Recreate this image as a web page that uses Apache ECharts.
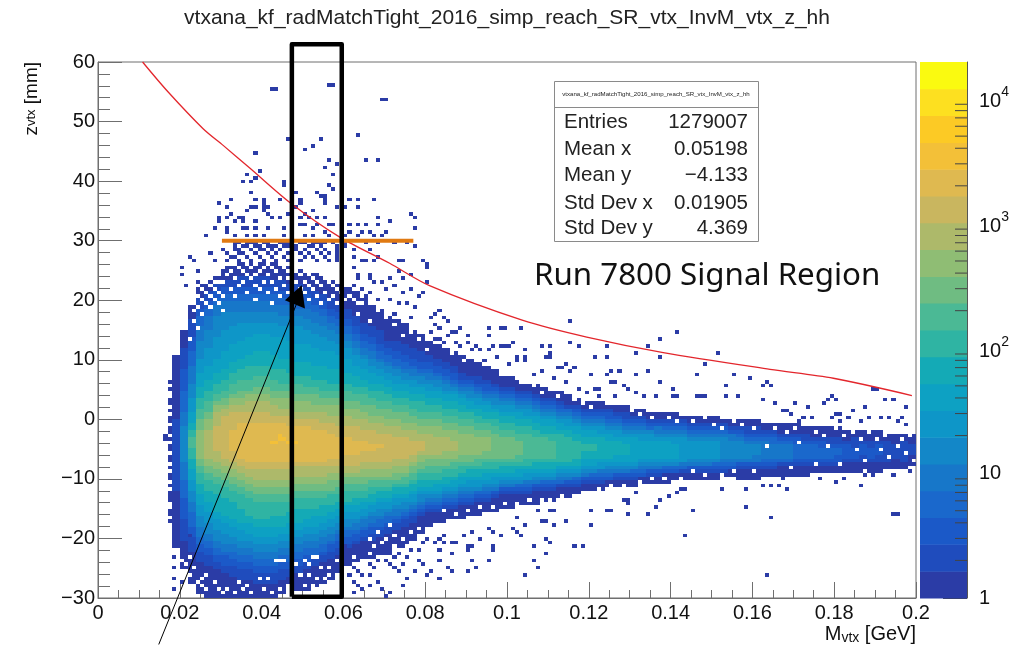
<!DOCTYPE html>
<html><head><meta charset="utf-8">
<style>html,body{margin:0;padding:0;background:#fff}#c{width:1014px;height:645px}</style>
<script src="https://cdn.jsdelivr.net/npm/echarts@6/dist/echarts.min.js"></script>
</head><body><div id="c"></div>
<script>
const titleText = 'vtxana_kf_radMatchTight_2016_simp_reach_SR_vtx_InvM_vtx_z_hh';
const statNames = ['Entries','Mean x','Mean y','Std Dev x','Std Dev y'];
const statValues = ['1279007','0.05198','\u22124.133','0.01905','4.369'];
const annotation = 'Run 7800 Signal Region';
const xBin = 0.001, zBin = 0.6, zMin = -30, firstColumn = 9;
const palette = ['#2b3ca6','#1f4cbd','#1b59c8','#1a68cc','#1777c9','#1387c8','#0e96c8','#0da1c3','#14aab6','#2fb4a3','#4bb995','#6fbc82','#8fbd74','#adb96a','#c9b65f','#dfb950','#f3c038','#fcca25','#fde020','#fafa10'];
const bandEdges = [1,1.64,2.69,4.41,7.22,11.84,19.4,31.8,52.1,85.5,140,230,376,617,1012,1658,2718,4455,7302,11970,19620];
const minorBarTicks = [2,3,4,5,6,7,8,9,20,30,40,50,60,70,80,90,200,300,400,500,600,700,800,900,2000,3000,4000,5000,6000,7000,8000,9000];
const columnLower = [
[14,30],[8,16,22,28,33,38],[4,13,17,20,24,27,30,33,36,39,42],
[1,10,13,15,17,20,23,26,29,32,35,37,39],[0,9,12,14,16,18,21,24,27,30,33,35,37,39],
[0,8,10,12,14,16,19,22,24,29,32,34,36,38,41],[0,7,9,12,13,15,18,21,23,28,31,33,35,37,39],
[0,6,9,11,13,15,17,20,22,27,30,32,34,36,38,41],[0,5,8,10,12,14,16,19,21,25,29,31,33,35,37,39],
[0,5,8,10,12,14,16,18,21,23,28,30,32,34,36,38],[0,4,7,9,11,13,15,17,20,22,27,29,31,33,36,38],
[0,4,7,9,11,13,15,17,20,22,27,29,31,33,36,38],[0,4,7,9,11,13,15,17,20,23,27,29,31,33,36,38],
[1,5,8,10,12,14,16,18,20,23,27,29,31,33,36,38],[1,6,8,10,12,14,16,18,21,24,27,29,31,33,36,38],
[2,7,9,11,13,15,17,19,21,25,28,30,32,34,37,38],[2,8,10,12,14,16,18,20,22,25,28,30,32,34,37,38],
[3,9,11,12,14,16,18,20,23,25,28,30,32,34,37,38],[4,10,12,13,15,17,19,21,23,26,28,30,32,34,37,38],
[5,11,13,15,16,18,20,22,24,26,29,30,33,35,37,39],[7,12,14,16,18,19,21,23,25,27,29,31,33,35,37,39],
[9,14,15,17,19,20,22,24,26,27,30,32,34,35,37,40],[10,15,16,18,19,21,22,24,26,28,30,32,34,35,37,40],
[11,16,17,19,20,22,23,25,27,28,30,32,34,36,38,41],[11,16,18,20,21,23,24,26,27,29,31,33,34,36,38,41],
[12,17,19,20,22,23,25,27,28,30,31,33,34,36,38,42],[12,18,20,21,23,24,25,27,28,30,31,33,34,36,38],
[14,19,21,22,23,25,26,28,29,31,32,33,35,37,39],[15,20,22,23,24,25,27,28,29,31,32,34,35,37,39],
[16,21,23,24,25,26,27,29,30,32,33,35,37,38,40],[18,23,24,25,26,27,29,30,31,33,35,36,38,40,41],
[20,24,25,26,27,28,29,30,31,33,35,37,39,40],[21,24,25,26,27,28,29,30,32,33,35,37,39,40],
[21,25,26,27,28,29,30,31,32,34,36,37,39,41],[22,25,26,27,28,29,30,31,33,34,36,38,39,41],
[22,26,27,28,29,30,31,32,34,35,37,38,40],[23,26,27,28,29,30,31,33,34,36,37,38,40],
[23,27,28,29,30,30,31,33,34,36,37,39,40],[24,27,28,29,30,31,32,33,35,36,38,39,41],
[24,28,29,30,30,31,32,34,35,36,38,39],[25,29,30,31,31,32,33,34,35,37,38,39],
[25,29,30,31,31,32,33,34,35,37,38,39],[26,29,30,31,32,32,33,34,36,37,38,40],
[26,29,30,31,32,33,33,35,36,37,39],[26,30,31,32,32,33,34,35,36,38,39],
[27,30,31,32,33,33,34,35,36,38,39],[27,30,31,32,33,33,34,35,36,38,39],
[28,31,32,32,33,34,35,36,37,38],[28,31,32,33,33,34,35,36,37,38],
[29,31,32,33,34,34,35,36,37,39],[30,32,33,34,34,35,36,37,39,41],
[30,32,33,34,35,35,36,37,39,41],[30,32,33,34,35,36,36,38,39],
[31,33,33,34,35,36,37,38,39],[31,33,34,35,35,36,37,38,40],
[31,33,34,35,35,36,37,38,40],[31,33,34,35,36,36,37,38],
[32,34,34,35,36,37,38,39],[32,34,35,36,36,37,38,39],
[32,34,35,36,36,37,38,39],[32,35,35,36,37,37,38,39],
[33,35,35,36,37,37,38,39],[33,35,36,36,37,38,38],
[33,35,36,37,37,38,39],[33,35,36,37,37,38,39],
[33,35,36,37,37,38,39],[33,35,36,37,38,38,39],
[34,35,36,37,38,39],[34,36,36,37,38,39],
[33,36,37,38,38,39],[33,36,37,38,38,39],
[33,36,37,38,38,40],[34,36,37,38,39],
[34,36,37,38,39],[34,37,38,38,39],
[34,37,38,38,39],[34,37,38,39],
[34,37,38,39],[35,37,38,39],
[35,37,38,39],[35,37,38,39],
[35,37,38,40],[35,38,39],
[35,38,39],[36,38,40],
[35,38,39],[35,38,40],
[36,38],[36,39],[36,38],[37,40]];
const columnUpper = [
[68,50],[75,70,64,58,52,48],[82,78,73,69,65,60,56,52,49,47,45],
[88,84,81,79,76,72,67,63,59,56,53,50,47],[89,86,83,81,79,75,70,65,61,58,55,52,50,47],
[90,88,86,84,82,79,73,67,63,60,57,55,54,52,48],[93,89,87,85,83,80,75,69,64,61,58,56,54,53,51],
[93,89,87,85,83,80,76,71,66,63,60,57,56,54,52,47],[94,90,87,85,83,80,77,72,67,64,61,58,56,54,52,49],
[94,90,87,85,83,80,77,73,68,65,61,58,57,55,52,49],[94,90,87,85,83,80,77,74,69,65,62,59,57,55,52,49],
[94,90,87,85,83,80,77,74,69,65,62,59,57,55,52,49],[94,89,87,85,82,80,77,73,68,64,61,58,56,54,51,49],
[93,89,86,84,82,79,76,73,67,64,60,58,56,53,51,49],[93,88,86,84,82,79,76,72,67,63,60,58,56,53,51,48],
[92,88,86,84,81,79,76,71,66,62,60,57,55,52,50,48],[91,87,85,83,81,78,75,71,66,62,59,57,55,52,50,48],
[91,86,84,82,80,77,74,70,65,61,59,57,54,52,50,47],[90,85,83,81,79,76,73,69,65,61,58,56,54,52,49,47],
[89,84,81,79,77,75,72,69,64,60,58,56,54,51,49,46],[88,83,80,78,76,74,71,68,64,60,58,56,54,51,48,45],
[87,81,78,76,74,72,70,67,63,60,58,55,53,51,48,45],[86,79,76,74,72,70,68,65,62,59,57,55,53,50,48,44],
[84,77,74,72,70,68,67,64,61,59,57,54,52,50,47,44],[82,76,73,71,69,67,65,63,60,58,56,54,51,49,47,43],
[81,75,71,69,67,66,64,62,60,58,55,53,51,49,46,43],[79,72,70,68,66,65,63,61,59,57,55,53,50,48,46],
[78,72,69,67,65,64,62,60,58,56,54,52,50,48,45],[77,71,68,66,64,63,61,60,58,56,54,52,49,47,45],
[75,70,67,65,64,62,61,59,57,55,53,51,49,47,44],[74,69,66,64,63,62,60,59,57,55,52,50,48,46,44],
[72,68,66,64,63,61,60,58,56,54,52,50,48,46],[71,67,65,63,62,61,59,58,56,54,52,50,48,45],
[70,66,64,62,61,60,58,57,55,53,51,49,47,45],[69,65,63,61,60,59,58,57,55,53,51,49,47,44],
[68,63,61,60,59,58,57,56,54,52,50,48,46],[67,62,61,60,59,58,56,55,53,52,50,48,46],
[66,62,60,59,58,57,56,54,53,51,49,47,45],[65,61,60,58,57,56,55,54,52,50,49,47,45],
[64,60,59,58,57,56,54,53,52,50,48,46],[62,59,58,57,56,55,54,52,51,49,47,45],
[62,59,58,57,56,55,54,52,51,49,47,45],[61,58,57,56,55,54,53,52,50,48,46,44],
[60,58,57,56,55,54,53,51,50,48,46],[60,57,56,55,54,53,52,51,49,47,45],
[59,56,55,54,53,52,51,50,48,46,45],[58,56,55,54,53,52,51,50,48,46,44],
[58,55,54,53,52,51,50,49,47,46],[57,54,53,53,52,51,50,48,47,45],
[56,54,53,52,51,50,49,48,46,44],[55,53,52,51,50,49,48,47,45,43],
[55,53,52,51,50,49,48,47,45,43],[55,53,52,51,50,49,48,46,45],
[54,53,52,50,49,48,47,46,44],[54,52,51,50,49,48,47,45,44],
[54,52,50,49,48,47,46,45,43],[53,51,50,49,48,47,46,45],
[53,51,50,49,48,47,46,44],[52,50,49,48,47,47,46,44],
[52,50,49,48,48,46,45,44],[52,50,49,48,47,46,45,44],
[52,50,49,48,47,46,45,43],[51,50,49,48,47,46,45],
[51,49,48,47,46,45,44],[51,49,48,47,46,45,44],
[51,49,48,47,46,45,44],[51,49,48,47,46,45,44],
[50,49,48,47,46,45],[50,48,47,46,46,44],
[50,48,47,46,45,44],[50,48,46,45,44,43],
[50,48,46,45,44,43],[49,47,46,45,44],
[49,47,46,45,43],[49,46,45,44,43],
[49,46,45,44,43],[49,46,45,43],
[48,46,44,43],[48,45,44,43],
[48,45,44,42],[48,45,43,42],
[48,45,43,42],[47,44,43],
[47,45,42],[47,44,43],
[47,44,42],[47,44,43],
[46,44],[46,43],[46,44],[46,43]];
const peakCells = [[44,44],[43,43],[42,43],[46,43],[48,43],[44,45],[45,44]];
const sparseCells = [
[17,21],[17,23],[17,24],[17,27],[17,28],[17,29],[17,31],[17,33],[17,34],[17,36],[17,38],[17,39],[17,41],[17,42],[17,44],[17,46],[17,47],[17,49],[17,50],[17,52],[17,54],[17,55],[17,58],[17,60],
[42,142],[43,142],[56,143],[57,143],[69,139],[70,139],[46,128],[54,128],[63,129],[52,126],[50,125],[38,124],[56,122],[65,122],[68,122],[58,121],[55,120],[57,118],[39,119],[36,118],[38,117],[35,116],[37,116],[45,116],[45,115],[56,115],[57,114],[48,113],[37,113],[53,113],[54,112],[55,112],[55,111],[32,111],[38,111],[49,111],[49,110],[44,111],[40,111],[40,110],[61,111],[63,111],[63,109],[67,111],[29,110],[55,110],[38,109],[37,109],[40,109],[41,109],[31,109],[48,109],[58,109],[60,109],[36,108],[40,108],[41,107],[32,107],[46,107],[47,107],[50,107],[52,108],[55,106],[76,107],[77,106],[34,106],[35,106],[31,106],[29,106],[29,105],[33,105],[35,105],[42,106],[44,106],[49,106],[51,106],[53,106],[68,106],[71,105],[38,105],[38,103],[49,104],[50,104],[53,104],[52,103],[56,104],[57,104],[61,104],[63,104],[65,104],[68,104],[28,103],[31,103],[31,102],[35,103],[36,103],[41,103],[45,103],[77,103],[26,101],[33,101],[36,101],[38,101],[40,101],[45,101],[50,101],[52,101],[55,102],[56,101],[61,102],[64,102],[66,102],[70,102],[60,101],[63,101],[67,101],[69,101],
[33,99],[34,99],[36,99],[37,99],[38,99],[40,99],[41,99],[44,99],[45,99],[46,99],[47,99],[49,99],[50,99],[52,99],[53,99],[54,99],[55,99],[57,99],[60,99],[65,99],[68,99],[72,99],[75,99],
[33,98],[35,98],[36,98],[38,98],[39,98],[41,98],[42,98],[43,98],[45,98],[46,98],[48,98],[51,98],[52,98],[54,98],[58,98],[60,98],[77,98],
[30,97],[33,97],[34,97],[37,97],[39,97],[40,97],[42,97],[44,97],[47,97],[48,97],[50,97],[53,97],[55,97],[58,97],[62,97],[66,97],
[27,96],[31,96],[34,96],[35,96],[38,96],[41,96],[43,96],[46,96],[49,96],[51,96],[54,96],[56,96],[58,96],
[22,95],[32,95],[33,95],[36,95],[39,95],[42,95],[45,95],[47,95],[50,95],[52,95],[55,95],[58,95],[62,95],[68,95],
[23,94],[28,94],[31,94],[34,94],[37,94],[40,94],[43,94],[46,94],[49,94],[53,94],[56,94],[58,94],[64,94],[65,94],[67,94],[73,94],[74,94],[79,94],
[20,92],[24,91],[20,90],[24,88],[21,87],[80,93],[80,92],[62,92],[76,90],[73,91],[71,89],[74,89],[63,90],[63,89],[66,90],[66,89],[67,88],[69,88],[62,87],[64,86],[66,85],[70,86],[72,87],[74,85],[76,86],[78,84],[80,88],[79,85],[65,84],[68,83],[71,83],[73,82],[75,82],[77,81],[66,80],[69,80],[72,79],[76,78],
[16,45],[18,11],[18,8],[18,5],[18,2],[20,4],[22,17],[16,44],
[60,14],[61,12],[62,13],[60,10],[63,10],[64,12],[65,11],[66,9],[62,8],[63,7],[61,6],[64,6],[62,4],[63,3],[64,2],[62,1],[66,6],[67,8],[68,10],[69,12],[70,10],[71,9],[72,11],[73,12],[74,14],[70,14],[71,13],[72,8],[73,7],[74,9],[75,11],[76,13],[78,10],[79,9],[80,6],[81,7],[78,13],[79,15],[80,16],[82,15],[83,13],[77,7],[66,3],[68,4],[69,2],[71,1],[74,3],[75,5],[70,0],
[115,77],[85,77],[95,75],[95,73],[98,75],[99,75],[103,75],[141,74],[137,72],[88,75],[87,74],[90,73],[90,71],[92,70],[115,71],[117,70],[101,71],[96,70],[98,70],[99,70],[100,70],[110,70],[108,70],[104,69],[124,70],[134,70],[93,69],[95,69],[91,69],[110,68],[110,67],[109,67],[121,67],[124,67],[131,68],[137,67],[151,68],[104,67],[104,66],[102,67],[102,66],[148,65],[114,65],[113,64],[112,64],[116,64],[115,63],[127,63],[124,62],[125,63],[131,62],[134,63],[120,62],[146,62],[155,62],[137,60],[159,61],[163,60],[126,60],[125,60],[121,58],[122,58],[128,59],[129,58],[131,57],[140,58],[153,59],[162,59],[126,56],[122,56],[140,56],[141,56],[148,56],[153,56],[156,56],[162,55],[133,56],[136,56],[146,56],[147,56],
[81,74],[82,76],[83,75],[83,72],[84,78],[85,73],[86,74],[82,72],[87,71],[88,70],[84,71],[82,79],[83,80],[81,78],[91,66],[94,66],[97,67],[100,65],[106,62],[108,63],[111,61],[114,60],[117,58],[119,57],
[83,5],[83,10],[85,8],[86,7],[90,7],[92,8],[95,10],[91,10],[104,6],[107,8],[106,10],[109,12],[106,14],[110,15],[109,16],[116,14],[118,14],[143,17],[163,6],[86,12],[91,14],[90,14],[90,13],[96,14],[96,13],[86,15],[87,15],[84,17],[84,15],[83,16],[89,17],[91,18],[93,16],[98,17],[102,18],[103,17],[95,19],[96,18],[104,20],[101,19],[120,20],[114,21],[111,20],[108,21],[109,21],[102,22],[129,23],[134,23],[145,24],[124,24],[125,24],[120,24],[158,25],[136,25],[137,27],[139,28],[164,22],[111,24],[110,24],[107,24],[128,27],[129,27],[129,26],[141,29],[142,30],[143,30],[152,30],[158,30],[162,31],[164,31],[131,29],
[194,23],[195,23],[168,30],[166,31],[167,33],[186,31],[180,32],[182,33],[189,34],[186,35],[187,34],[194,34],[198,35],[176,33],[171,34],[197,37],[178,35],[169,35],[170,36],
[189,58],[190,58],[192,55],[194,55],[179,56],[180,55],[177,54],[178,55],[197,53],[187,53],[173,53],[170,54],[168,52],[167,52],[184,52],[165,54],[164,59],[180,51],[181,51],[169,51],[172,50],[196,50],[179,50],[183,50],[191,50],[193,50],[174,50],[186,49],[188,50],[195,49],[197,48],[181,49],[169,48],[171,49]];
const holeCells = [
[31,93],[33,93],[36,93],[38,93],[41,93],[44,93],[47,93],[48,93],[51,93],[53,93],[54,93],[56,93],[59,93],
[30,92],[34,92],[37,92],[40,92],[42,92],[45,92],[49,92],[52,92],[55,92],[57,92],[58,92],
[32,91],[35,91],[39,91],[43,91],[46,91],[48,91],[50,91],[53,91],[56,91],[60,91],
[31,90],[36,90],[38,90],[41,90],[47,90],[49,90],[51,90],[54,90],[57,90],[59,90],
[33,89],[37,89],[44,89],[46,89],[52,89],[55,89],[58,89],
[30,88],[35,88],[40,88],[42,88],[48,88],[50,88],[53,88],[56,88],[60,88],
[34,87],[38,87],[45,87],[47,87],[51,87],[54,87],[57,87],
[32,86],[39,86],[43,86],[49,86],[52,86],[58,86],
[36,85],[41,85],[46,85],[50,85],[55,85],[59,85],
[33,84],[44,84],[48,84],[53,84],[57,84],[61,84],
[38,83],[51,83],[56,83],[60,83],[62,83],[42,82],[47,82],[54,82],[58,82],[63,82],
[24,87],[27,87],[25,86],[28,86],[29,85],[26,85],[24,84],[27,84],[30,84],[25,83],[28,83],[26,82],[29,82],[24,81],[27,81],[23,80],[30,80],[25,79],[23,77],[24,75],[22,72],[28,88],[26,88],[29,88],
[39,5],[41,5],[46,3],[46,2],[46,1],[35,2],[36,3],[29,2],[30,1],[24,4],[25,5],[26,6],[44,10],[45,10],[43,10],[47,10],
[22,6],[23,8],[25,3],[26,2],[28,4],[31,2],[33,1],[34,4],[37,1],[40,2],[42,1],[44,2],[21,9],[22,11],[20,10],
[52,11],[53,11],[50,10],[51,9],[54,8],[56,8],[58,10],[49,6],[51,6],[53,5],[55,5],[56,6],[57,4],[50,3],[52,3],[53,2],[55,2],[56,2],[58,2],[49,1],[51,1],[54,1],[57,1],[59,3],[59,6],[60,8],[48,9],
[62,11],[64,10],[66,12],[67,14],[69,15],[70,16],[72,14],[72,17],[74,16],[76,18],[78,19],[66,16],[68,18],[71,20],
[130,52],[132,51],[135,50],[133,53],[137,52],[139,50],[141,49],[143,51],[145,49],[148,50],[150,48],[152,47],[155,49],[157,48],[160,47],[162,49],[165,47],[168,46],[170,47],[172,48],[175,46],[177,45],[180,47],[182,45],[184,46],[186,44],[188,46],[190,44],[192,45],[194,46],[196,44],[198,45],[163,42],[171,43],[178,42],[185,41],[191,41],[195,42],[197,40],[199,38],[193,39],[187,38],[181,37],[175,37],[169,36],[160,35],[155,35],[152,34],[148,34],[145,35],[142,33],[138,33],[135,33],[132,32],[128,31],[125,31],[122,30],[118,29],[113,28],[110,27],
[95,66],[100,63],[103,60],[106,59],[108,57],[110,58],[112,56],[114,57],[116,55],[118,54],[120,53],[97,64],[92,67],[89,66],[86,68],[84,70],[82,71],[80,69],[78,72],[76,74],[74,73],[72,76],[70,78],[68,80],[66,77],[64,82],[63,79],
[84,24],[87,23],[90,24],[93,25],[96,25],[99,26],[102,26],[105,27],[108,27],[85,21],[83,20]];
const curveX = [0.0109,0.0171,0.0257,0.0306,0.0371,0.0473,0.0591,0.0713,0.0812,0.1039,0.1195,0.1382,0.1643,0.1798,0.199];
const curveZ = [60,55,48.8,46,42.2,36.2,30.6,26.2,22.4,16.6,13.8,11.2,8.4,6.9,4];
const cutX = [0.0303,0.0771], cutZ = [30,30];
const boxX = [0.0474,0.0474,0.0596,0.0596,0.0474], boxZ = [-29.8,63,63,-29.8,-29.8];
const arrowX = [0.01485,0.0489], arrowZ = [-37.8,20];
const headX = [0.0457,0.0498,0.0506], headZ = [20,22.5,18.6];

const holeSet = new Set(holeCells.map(c => c[0] + '_' + c[1]));
const peakSet = new Set(peakCells.map(c => c[0] + '_' + c[1]));
const cells = [];
columnLower.forEach((lo, k) => {
  const up = columnUpper[k], col = firstColumn + k;
  for (let iy = 0; iy < up[0]; iy++) {
    let level = -1;
    lo.forEach((v, L) => { if (iy >= v && iy < up[L]) level = L; });
    if (level < 0) continue;
    [col * 2, col * 2 + 1].forEach(ix => {
      const key = ix + '_' + iy;
      if (!holeSet.has(key)) cells.push([ix, iy, peakSet.has(key) ? 16 : level]);
    });
  }
});
sparseCells.forEach(c => cells.push([c[0], c[1], 0]));

const font = '"Liberation Sans", Arial, sans-serif';
const axisGray = '#6f6f6f';
const statRows = [122, 149, 175, 203, 228];
const graphics = [
  {type:'rect', z:50, shape:{x:554.5,y:81.5,width:204,height:160}, style:{fill:'#fff',stroke:'#8a8a8a',lineWidth:1}},
  {type:'line', z:51, shape:{x1:554.5,y1:107.5,x2:758.5,y2:107.5}, style:{stroke:'#8a8a8a',lineWidth:1}},
  {type:'text', z:51, x:656, y:94, style:{text:titleText,font:'6.1px '+font,fill:'#222',align:'center',verticalAlign:'middle'}},
  {type:'text', z:51, x:534, y:276, style:{text:annotation,font:'31.3px "Noto Sans"',fill:'#111',verticalAlign:'middle'}}
];
statNames.forEach((t,i)=>{
  graphics.push({type:'text',z:51,x:564,y:statRows[i],style:{text:t,font:'20.5px '+font,fill:'#222',verticalAlign:'middle'}});
  graphics.push({type:'text',z:51,x:748,y:statRows[i],style:{text:statValues[i],font:'20.5px '+font,fill:'#222',align:'right',verticalAlign:'middle'}});
});

const chart = echarts.init(document.getElementById('c'), null, {renderer:'canvas'});
chart.setOption({
  animation:false,
  backgroundColor:'#fff',
  title:{text:titleText,left:'center',top:3,textStyle:{fontFamily:font,fontSize:21,fontWeight:'normal',color:'#222'}},
  textStyle:{fontFamily:font},
  graphic:graphics,
  grid:[
    {left:98,top:62,width:818,height:536,show:true,borderColor:axisGray,borderWidth:1,backgroundColor:'transparent'},
    {left:920,top:62,width:47,height:536}
  ],
  xAxis:[
    {type:'value',gridIndex:0,min:0,max:0.2,interval:0.02,splitLine:{show:false},
     axisLine:{onZero:false,lineStyle:{color:axisGray}},
     axisTick:{inside:true,length:16,lineStyle:{color:axisGray}},
     minorTick:{show:true,splitNumber:4,length:8,lineStyle:{color:axisGray}},
     axisLabel:{fontSize:20,color:'#111',margin:5,fontFamily:font,formatter:v=>String(+v.toFixed(2)),showMinLabel:true,showMaxLabel:true},
     name:'M{s|vtx} [GeV]',nameLocation:'end',nameGap:0,
     nameTextStyle:{fontSize:20,color:'#111',fontFamily:font,align:'right',verticalAlign:'top',padding:[25,0,0,0],
       rich:{s:{fontSize:14,verticalAlign:'bottom',padding:[8,0,0,0],color:'#111',fontFamily:font}}}},
    {type:'value',gridIndex:1,min:0,max:1,show:false}
  ],
  yAxis:[
    {type:'value',gridIndex:0,min:-30,max:60,interval:10,splitLine:{show:false},
     axisLine:{onZero:false,lineStyle:{color:axisGray}},
     axisTick:{inside:true,length:24,lineStyle:{color:axisGray}},
     minorTick:{show:true,splitNumber:5,length:12,lineStyle:{color:axisGray}},
     axisLabel:{fontSize:20,color:'#111',margin:3,fontFamily:font,formatter:v=>String(v).replace('-','\u2212')},
     name:'z{s|vtx} [mm]',nameLocation:'end',nameRotate:90,nameGap:0,
     nameTextStyle:{fontSize:19,color:'#111',fontFamily:font,align:'right',verticalAlign:'bottom',padding:[0,0,57,0],
       rich:{s:{fontSize:13,color:'#111',fontFamily:font}}}},
    {type:'log',gridIndex:1,min:1,max:19620,logBase:10,position:'right',splitLine:{show:false},
     axisLine:{onZero:false,lineStyle:{color:'#555'}},
     axisTick:{inside:true,length:24,lineStyle:{color:'#444'}},
     axisLabel:{margin:12,color:'#111',fontSize:20,fontFamily:font,
       formatter:v=>{
         const e=Math.round(Math.log10(v));
         if(Math.abs(v-Math.pow(10,e))>1e-6*v) return '';
         return e===0?'1':e===1?'10':'{n|10}{s|'+e+'}';
       },
       rich:{n:{fontSize:20,padding:[6,0,0,0],color:'#111',fontFamily:font},
             s:{fontSize:14,verticalAlign:'top',padding:[0,0,8,0],color:'#111',fontFamily:font}}}}
  ],
  series:[
    {type:'custom',xAxisIndex:0,yAxisIndex:0,coordinateSystem:'cartesian2d',z:2,silent:true,progressive:0,
     encode:{x:0,y:1},
     data:cells,
     renderItem:(p,api)=>{
       const ix=api.value(0),iy=api.value(1);
       const a=api.coord([ix*xBin,zMin+iy*zBin]),b=api.coord([(ix+1)*xBin,zMin+(iy+1)*zBin]);
       const x0=Math.round(a[0]),x1=Math.round(b[0]),y0=Math.round(b[1]),y1=Math.round(a[1]);
       return {type:'rect',shape:{x:x0,y:y0,width:x1-x0,height:y1-y0},style:{fill:palette[api.value(2)]}};
     }},
    {type:'custom',xAxisIndex:1,yAxisIndex:1,coordinateSystem:'cartesian2d',z:2,silent:true,progressive:0,
     data:palette.map((c,i)=>[i]),
     encode:{y:0},
     renderItem:(p,api)=>{
       const i=api.value(0);
       const a=api.coord([0,bandEdges[i]]),b=api.coord([1,bandEdges[i+1]]);
       return {type:'rect',shape:{x:a[0],y:b[1],width:b[0]-a[0],height:a[1]-b[1]+0.5},style:{fill:palette[i]}};
     }},
    {type:'custom',xAxisIndex:1,yAxisIndex:1,coordinateSystem:'cartesian2d',z:3,silent:true,progressive:0,
     data:minorBarTicks.map(v=>[v]),
     encode:{y:0},
     renderItem:(p,api)=>{
       const a=api.coord([1,api.value(0)]);
       return {type:'line',shape:{x1:a[0]-12,y1:a[1],x2:a[0],y2:a[1]},style:{stroke:'#444',lineWidth:1}};
     }},
    {type:'line',xAxisIndex:0,yAxisIndex:0,z:5,silent:true,clip:false,symbol:'none',smooth:0.3,
     lineStyle:{color:'#e3262c',width:1.3},data:curveX.map((x,i)=>[x,curveZ[i]])},
    {type:'line',xAxisIndex:0,yAxisIndex:0,z:6,silent:true,clip:false,symbol:'none',
     lineStyle:{color:'#e07a12',width:4},data:cutX.map((x,i)=>[x,cutZ[i]])},
    {type:'line',xAxisIndex:0,yAxisIndex:0,z:7,silent:true,clip:false,symbol:'none',
     lineStyle:{color:'#000',width:4.5,join:'round'},data:boxX.map((x,i)=>[x,boxZ[i]])},
    {type:'line',xAxisIndex:0,yAxisIndex:0,z:8,silent:true,clip:false,symbol:'none',
     lineStyle:{color:'#000',width:1},data:arrowX.map((x,i)=>[x,arrowZ[i]])},
    {type:'custom',xAxisIndex:0,yAxisIndex:0,coordinateSystem:'cartesian2d',z:9,silent:true,clip:false,
     data:[headX.map((x,i)=>i)],encode:{x:[],y:[]},
     renderItem:(p,api)=>({type:'polygon',shape:{points:headX.map((x,i)=>api.coord([x,headZ[i]]))},style:{fill:'#000'}})}
  ]
});
</script></body></html>
